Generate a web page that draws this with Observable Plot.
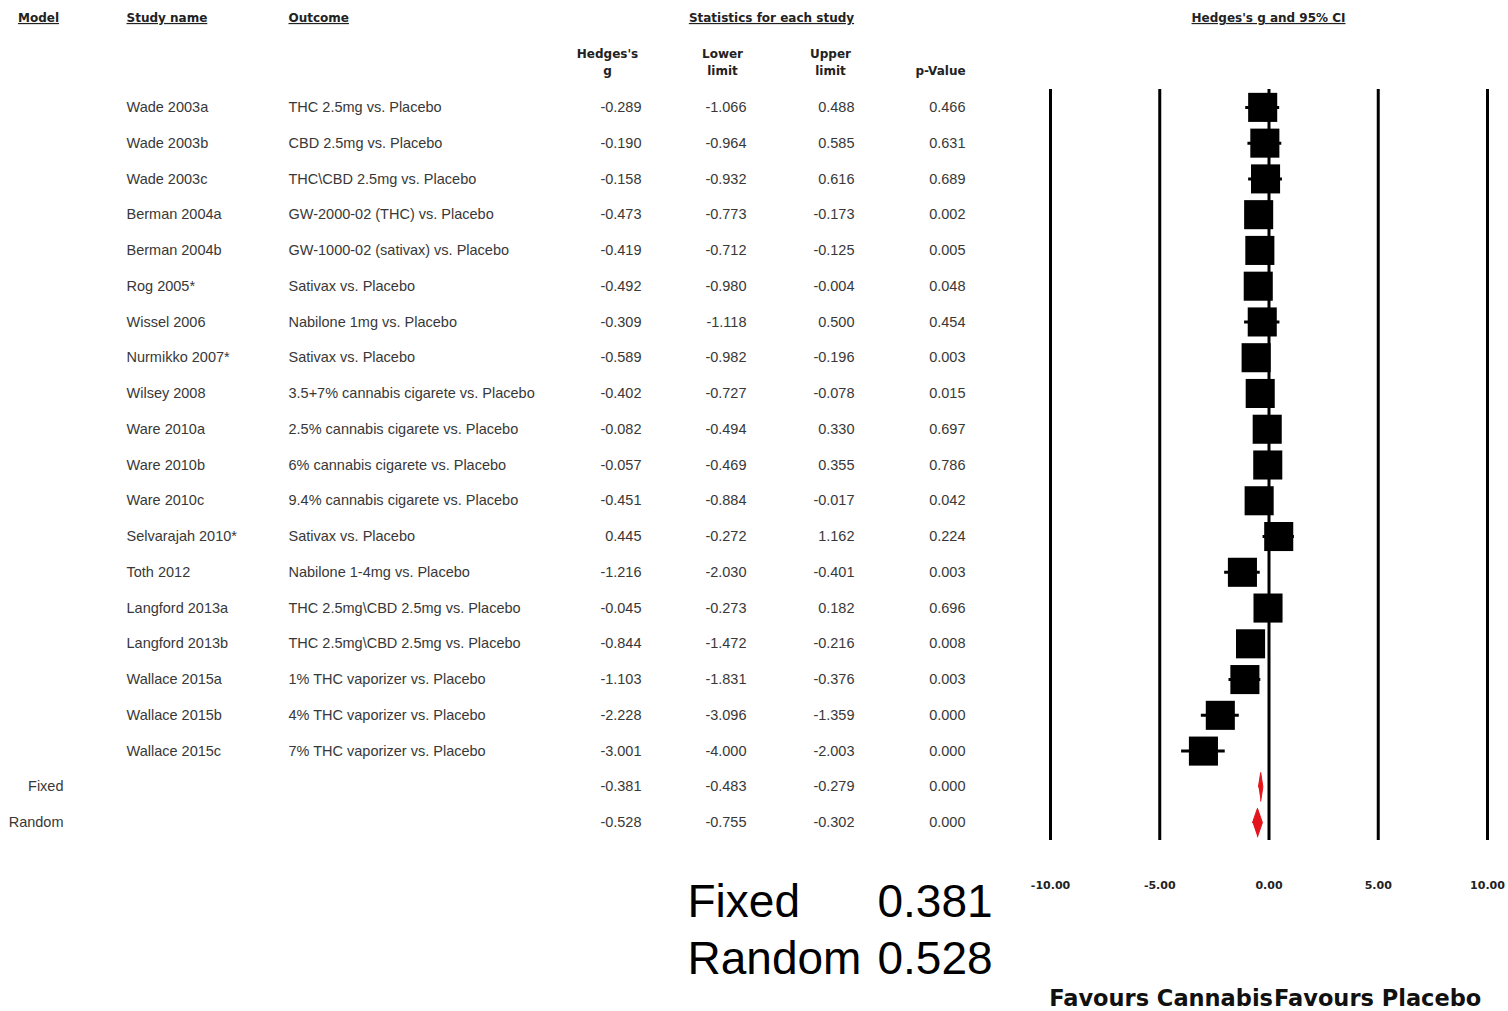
<!DOCTYPE html>
<html><head><meta charset="utf-8">
<script src="https://cdn.jsdelivr.net/npm/d3@7"></script>
<script src="https://cdn.jsdelivr.net/npm/@observablehq/plot@0.6"></script>
<style>
body{margin:0;background:#fff;}
</style></head><body><div id="chart"></div>
<script>
// ---- data ----
const studies = ["Wade 2003a","Wade 2003b","Wade 2003c","Berman 2004a","Berman 2004b","Rog 2005*","Wissel 2006","Nurmikko 2007*","Wilsey 2008","Ware 2010a","Ware 2010b","Ware 2010c","Selvarajah 2010*","Toth 2012","Langford 2013a","Langford 2013b","Wallace 2015a","Wallace 2015b","Wallace 2015c"];
const outcomes = ["THC 2.5mg vs. Placebo","CBD 2.5mg vs. Placebo","THC\\CBD 2.5mg vs. Placebo","GW-2000-02 (THC) vs. Placebo","GW-1000-02 (sativax) vs. Placebo","Sativax vs. Placebo","Nabilone 1mg vs. Placebo","Sativax vs. Placebo","3.5+7% cannabis cigarete vs. Placebo","2.5% cannabis cigarete vs. Placebo","6% cannabis cigarete vs. Placebo","9.4% cannabis cigarete vs. Placebo","Sativax vs. Placebo","Nabilone 1-4mg vs. Placebo","THC 2.5mg\\CBD 2.5mg vs. Placebo","THC 2.5mg\\CBD 2.5mg vs. Placebo","1% THC vaporizer vs. Placebo","4% THC vaporizer vs. Placebo","7% THC vaporizer vs. Placebo"];
const hedgesG   = [-0.289,-0.190,-0.158,-0.473,-0.419,-0.492,-0.309,-0.589,-0.402,-0.082,-0.057,-0.451,0.445,-1.216,-0.045,-0.844,-1.103,-2.228,-3.001];
const lowerLimit= [-1.066,-0.964,-0.932,-0.773,-0.712,-0.980,-1.118,-0.982,-0.727,-0.494,-0.469,-0.884,-0.272,-2.030,-0.273,-1.472,-1.831,-3.096,-4.000];
const upperLimit= [0.488,0.585,0.616,-0.173,-0.125,-0.004,0.500,-0.196,-0.078,0.330,0.355,-0.017,1.162,-0.401,0.182,-0.216,-0.376,-1.359,-2.003];
const pValues   = [0.466,0.631,0.689,0.002,0.005,0.048,0.454,0.003,0.015,0.697,0.786,0.042,0.224,0.003,0.696,0.008,0.003,0.000,0.000];
const models = ["Fixed","Random"];
const pooledG = [-0.381,-0.528];
const pooledLower = [-0.483,-0.755];
const pooledUpper = [-0.279,-0.302];
const pooledP = [0.000,0.000];
const xTicks = [-10,-5,0,5,10];
const nullEffect = 0;
const summaryLabels = ["Fixed","Random"];
const summaryValues = ["0.381","0.528"];
const favourLabels = ["Favours Cannabis","Favours Placebo"];
const underlinedHeaders = ["Model","Study name","Outcome","Statistics for each study","Hedges's g and 95% CI"];

// ---- table built from arrays ----
const studyRows = studies.map((s,i)=>({row:i,model:"",study:s,outcome:outcomes[i],g:hedgesG[i],lo:lowerLimit[i],hi:upperLimit[i],p:pValues[i]}));
const pooledRows = models.map((m,j)=>({row:studies.length+j,model:m,study:"",outcome:"",g:pooledG[j],lo:pooledLower[j],hi:pooledUpper[j],p:pooledP[j]}));
const allRows = studyRows.concat(pooledRows);
const half = 0.4;
const diamondPts = pooledRows.flatMap(d=>[
  {row:d.row,x:d.lo,y:d.row},{row:d.row,x:d.g,y:d.row-half},
  {row:d.row,x:d.hi,y:d.row},{row:d.row,x:d.g,y:d.row+half}]);

// ---- layout ----
const W=1508,H=1011,ML=1050,MR=21,MT=89,MB=171;
const BODY="'Liberation Sans', Arial, sans-serif";
const HEAD="'DejaVu Sans', Verdana, sans-serif";
const fmt3 = v=>v.toFixed(3);

function col(field, px, anchor, format){
  return Plot.text(allRows,{y:"row",text:d=>{const v=d[field];return format&&v!==""?format(v):v;},
    frameAnchor:"left",dx:px-ML,textAnchor:anchor,fontSize:14.5,fontFamily:BODY,fill:"#383838"});
}
function hdr(label, px, py, anchor){
  return Plot.text([label],{text:d=>d,frameAnchor:"top-left",dx:px-ML,dy:py-MT,textAnchor:anchor,
    lineAnchor:"middle",lineHeight:1.42,fontSize:12,fontWeight:"bold",fontFamily:HEAD,fill:"#222"});
}

const chart = Plot.plot({
  width:W,height:H,marginLeft:ML,marginRight:MR,marginTop:MT,marginBottom:MB,
  style:{background:"#fff",overflow:"visible"},
  x:{domain:[-10,10],axis:null},
  y:{domain:[-0.5,20.5],reverse:true,axis:null},
  marks:[
    Plot.ruleX(xTicks,{stroke:"#000",strokeWidth:3}),
    Plot.ruleY(studyRows,{y:"row",x1:"lo",x2:"hi",stroke:"#000",strokeWidth:3}),
    Plot.dot(studyRows,{x:"g",y:"row",symbol:"square",r:16.4,fill:"#000",stroke:null}),
    Plot.line(diamondPts,{x:"x",y:"y",z:"row",fill:"#e3141c",stroke:"#e3141c",strokeWidth:1}),
    col("model",63,"end"),
    col("study",126,"start"),
    col("outcome",288,"start"),
    col("g",641,"end",fmt3),
    col("lo",746,"end",fmt3),
    col("hi",854,"end",fmt3),
    col("p",965,"end",fmt3),
    hdr("Model",38,16,"middle"),
    hdr("Study name",126,16,"start"),
    hdr("Outcome",288,16,"start"),
    hdr("Statistics for each study",771,16,"middle"),
    hdr("Hedges's g and 95% CI",1268,16,"middle"),
    hdr("Hedges's\ng",607,60.5,"middle"),
    hdr("Lower\nlimit",722,60.5,"middle"),
    hdr("Upper\nlimit",830,60.5,"middle"),
    hdr("p-Value",940,69,"middle"),
    Plot.text(xTicks,{x:d=>d,text:d=>d.toFixed(2),frameAnchor:"bottom",dy:48,fontSize:11,fontWeight:"bold",fontFamily:HEAD,fill:"#222"}),
    Plot.text([favourLabels[0]],{x:()=>nullEffect,text:d=>d,frameAnchor:"bottom",dy:165,dx:4,textAnchor:"end",fontSize:22.5,fontWeight:"bold",fontFamily:HEAD,fill:"#111"}),
    Plot.text([favourLabels[1]],{x:()=>nullEffect,text:d=>d,frameAnchor:"bottom",dy:165,dx:5,textAnchor:"start",fontSize:22.5,fontWeight:"bold",fontFamily:HEAD,fill:"#111"}),
    Plot.text([summaryLabels.join("\n")],{text:d=>d,frameAnchor:"bottom-left",dx:687-ML,dy:926.5-840,textAnchor:"start",lineAnchor:"middle",lineHeight:1.24,fontSize:46,fontFamily:BODY,fill:"#000"}),
    Plot.text([summaryValues.join("\n")],{text:d=>d,frameAnchor:"bottom-left",dx:877-ML,dy:926.5-840,textAnchor:"start",lineAnchor:"middle",lineHeight:1.24,fontSize:46,fontFamily:BODY,fill:"#000"})
  ]
});
d3.select(chart).selectAll("text")
  .filter(function(){return underlinedHeaders.includes(this.textContent);})
  .style("text-decoration","underline");
document.getElementById("chart").appendChild(chart);
</script></body></html>
